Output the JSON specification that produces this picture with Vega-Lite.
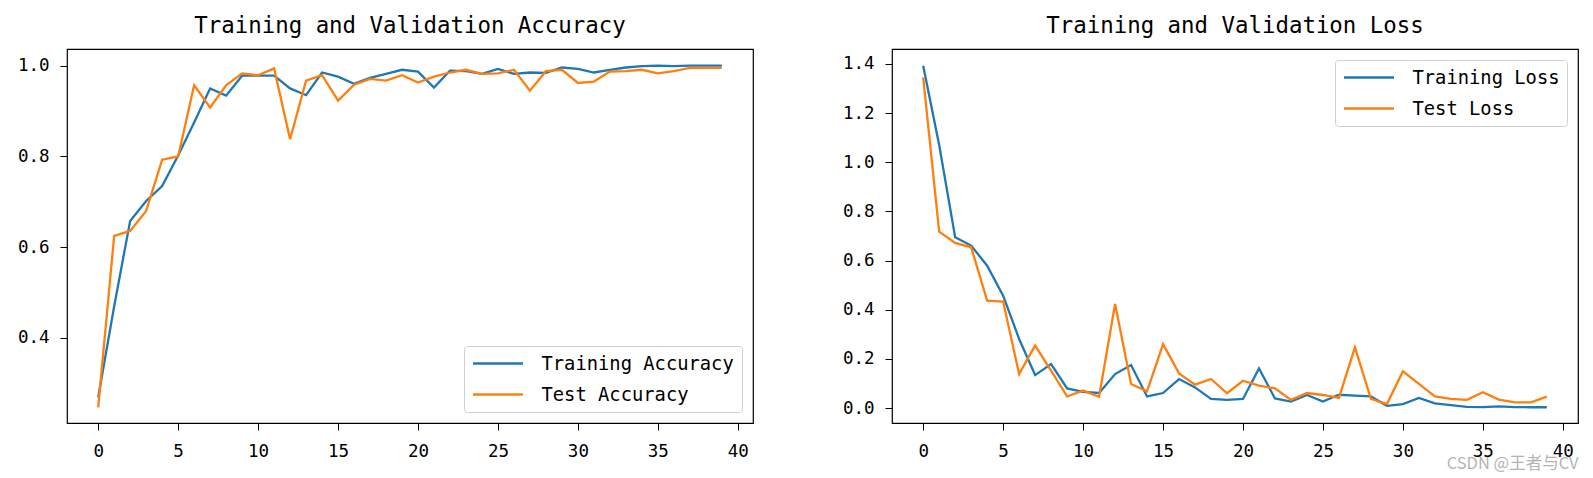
{
  "$schema": "https://vega.github.io/schema/vega-lite/v6.json",
  "padding": {"left": 16, "top": 14, "right": 0, "bottom": 0},
  "background": "white",
  "title": {"text": "CSDN @王者与CV", "orient": "bottom", "anchor": "end", "font": "Noto Sans CJK SC", "fontSize": 16.5, "fontWeight": "normal", "color": "#b4b4b4", "baseline": "top", "offset": -4},
  "datasets": {
    "acc": [
      {"epoch": 0, "Training Accuracy": 0.269, "Test Accuracy": 0.247},
      {"epoch": 1, "Training Accuracy": 0.47, "Test Accuracy": 0.625},
      {"epoch": 2, "Training Accuracy": 0.658, "Test Accuracy": 0.636},
      {"epoch": 3, "Training Accuracy": 0.702, "Test Accuracy": 0.68},
      {"epoch": 4, "Training Accuracy": 0.735, "Test Accuracy": 0.793},
      {"epoch": 5, "Training Accuracy": 0.802, "Test Accuracy": 0.8},
      {"epoch": 6, "Training Accuracy": 0.875, "Test Accuracy": 0.957},
      {"epoch": 7, "Training Accuracy": 0.95, "Test Accuracy": 0.908},
      {"epoch": 8, "Training Accuracy": 0.934, "Test Accuracy": 0.957},
      {"epoch": 9, "Training Accuracy": 0.978, "Test Accuracy": 0.983},
      {"epoch": 10, "Training Accuracy": 0.978, "Test Accuracy": 0.979},
      {"epoch": 11, "Training Accuracy": 0.978, "Test Accuracy": 0.994},
      {"epoch": 12, "Training Accuracy": 0.95, "Test Accuracy": 0.838},
      {"epoch": 13, "Training Accuracy": 0.935, "Test Accuracy": 0.967},
      {"epoch": 14, "Training Accuracy": 0.985, "Test Accuracy": 0.979},
      {"epoch": 15, "Training Accuracy": 0.976, "Test Accuracy": 0.923},
      {"epoch": 16, "Training Accuracy": 0.96, "Test Accuracy": 0.958},
      {"epoch": 17, "Training Accuracy": 0.973, "Test Accuracy": 0.971},
      {"epoch": 18, "Training Accuracy": 0.982, "Test Accuracy": 0.967},
      {"epoch": 19, "Training Accuracy": 0.991, "Test Accuracy": 0.979},
      {"epoch": 20, "Training Accuracy": 0.987, "Test Accuracy": 0.963},
      {"epoch": 21, "Training Accuracy": 0.952, "Test Accuracy": 0.976},
      {"epoch": 22, "Training Accuracy": 0.989, "Test Accuracy": 0.985},
      {"epoch": 23, "Training Accuracy": 0.988, "Test Accuracy": 0.991},
      {"epoch": 24, "Training Accuracy": 0.982, "Test Accuracy": 0.982},
      {"epoch": 25, "Training Accuracy": 0.993, "Test Accuracy": 0.983},
      {"epoch": 26, "Training Accuracy": 0.982, "Test Accuracy": 0.991},
      {"epoch": 27, "Training Accuracy": 0.985, "Test Accuracy": 0.945},
      {"epoch": 28, "Training Accuracy": 0.984, "Test Accuracy": 0.988},
      {"epoch": 29, "Training Accuracy": 0.996, "Test Accuracy": 0.991},
      {"epoch": 30, "Training Accuracy": 0.993, "Test Accuracy": 0.962},
      {"epoch": 31, "Training Accuracy": 0.985, "Test Accuracy": 0.965},
      {"epoch": 32, "Training Accuracy": 0.991, "Test Accuracy": 0.987},
      {"epoch": 33, "Training Accuracy": 0.996, "Test Accuracy": 0.988},
      {"epoch": 34, "Training Accuracy": 0.999, "Test Accuracy": 0.991},
      {"epoch": 35, "Training Accuracy": 1.0, "Test Accuracy": 0.983},
      {"epoch": 36, "Training Accuracy": 0.999, "Test Accuracy": 0.988},
      {"epoch": 37, "Training Accuracy": 1.0, "Test Accuracy": 0.995},
      {"epoch": 38, "Training Accuracy": 1.0, "Test Accuracy": 0.995},
      {"epoch": 39, "Training Accuracy": 1.0, "Test Accuracy": 0.995}
    ],
    "loss": [
      {"epoch": 0, "Training Loss": 1.393, "Test Loss": 1.346},
      {"epoch": 1, "Training Loss": 1.07, "Test Loss": 0.718},
      {"epoch": 2, "Training Loss": 0.695, "Test Loss": 0.672},
      {"epoch": 3, "Training Loss": 0.661, "Test Loss": 0.654},
      {"epoch": 4, "Training Loss": 0.579, "Test Loss": 0.437},
      {"epoch": 5, "Training Loss": 0.457, "Test Loss": 0.433},
      {"epoch": 6, "Training Loss": 0.281, "Test Loss": 0.138},
      {"epoch": 7, "Training Loss": 0.134, "Test Loss": 0.254},
      {"epoch": 8, "Training Loss": 0.179, "Test Loss": 0.152},
      {"epoch": 9, "Training Loss": 0.08, "Test Loss": 0.047},
      {"epoch": 10, "Training Loss": 0.066, "Test Loss": 0.071},
      {"epoch": 11, "Training Loss": 0.061, "Test Loss": 0.046},
      {"epoch": 12, "Training Loss": 0.138, "Test Loss": 0.423},
      {"epoch": 13, "Training Loss": 0.175, "Test Loss": 0.098},
      {"epoch": 14, "Training Loss": 0.047, "Test Loss": 0.068},
      {"epoch": 15, "Training Loss": 0.061, "Test Loss": 0.26},
      {"epoch": 16, "Training Loss": 0.118, "Test Loss": 0.141},
      {"epoch": 17, "Training Loss": 0.084, "Test Loss": 0.095},
      {"epoch": 18, "Training Loss": 0.037, "Test Loss": 0.118},
      {"epoch": 19, "Training Loss": 0.033, "Test Loss": 0.06},
      {"epoch": 20, "Training Loss": 0.037, "Test Loss": 0.111},
      {"epoch": 21, "Training Loss": 0.161, "Test Loss": 0.091},
      {"epoch": 22, "Training Loss": 0.039, "Test Loss": 0.08},
      {"epoch": 23, "Training Loss": 0.026, "Test Loss": 0.033},
      {"epoch": 24, "Training Loss": 0.053, "Test Loss": 0.061},
      {"epoch": 25, "Training Loss": 0.026, "Test Loss": 0.053},
      {"epoch": 26, "Training Loss": 0.054, "Test Loss": 0.041},
      {"epoch": 27, "Training Loss": 0.05, "Test Loss": 0.247},
      {"epoch": 28, "Training Loss": 0.047, "Test Loss": 0.037},
      {"epoch": 29, "Training Loss": 0.009, "Test Loss": 0.016},
      {"epoch": 30, "Training Loss": 0.016, "Test Loss": 0.149},
      {"epoch": 31, "Training Loss": 0.041, "Test Loss": 0.098},
      {"epoch": 32, "Training Loss": 0.019, "Test Loss": 0.047},
      {"epoch": 33, "Training Loss": 0.012, "Test Loss": 0.037},
      {"epoch": 34, "Training Loss": 0.005, "Test Loss": 0.033},
      {"epoch": 35, "Training Loss": 0.004, "Test Loss": 0.064},
      {"epoch": 36, "Training Loss": 0.007, "Test Loss": 0.034},
      {"epoch": 37, "Training Loss": 0.004, "Test Loss": 0.023},
      {"epoch": 38, "Training Loss": 0.003, "Test Loss": 0.023},
      {"epoch": 39, "Training Loss": 0.003, "Test Loss": 0.046}
    ]
  },
  "spacing": 139,
  "bounds": "flush",
  "hconcat": [
    {
      "width": 686,
      "height": 374,
      "title": {"text": "Training and Validation Accuracy"},
      "data": {"name": "acc"},
      "transform": [{"fold": ["Training Accuracy", "Test Accuracy"], "as": ["series", "value"]}],
      "mark": {"type": "line", "strokeWidth": 2.3},
      "encoding": {
        "x": {"field": "epoch", "type": "quantitative", "scale": {"domain": [-1.95, 40.95], "nice": false, "zero": false}, "axis": {"values": [0, 5, 10, 15, 20, 25, 30, 35, 40], "format": "d", "title": null}},
        "y": {"field": "value", "type": "quantitative", "scale": {"domain": [0.2127, 1.0368], "nice": false, "zero": false}, "axis": {"values": [0.4, 0.6, 0.8, 1.0], "format": ".1f", "title": null}},
        "color": {"field": "series", "type": "nominal", "scale": {"domain": ["Training Accuracy", "Test Accuracy"], "range": ["#1f77b4", "#ff7f0e"]}, "legend": {"title": null, "orient": "bottom-right", "offset": 11}}
      }
    },
    {
      "width": 686,
      "height": 374,
      "title": {"text": "Training and Validation Loss"},
      "data": {"name": "loss"},
      "transform": [{"fold": ["Training Loss", "Test Loss"], "as": ["series", "value"]}],
      "mark": {"type": "line", "strokeWidth": 2.3},
      "encoding": {
        "x": {"field": "epoch", "type": "quantitative", "scale": {"domain": [-1.95, 40.95], "nice": false, "zero": false}, "axis": {"values": [0, 5, 10, 15, 20, 25, 30, 35, 40], "format": "d", "title": null}},
        "y": {"field": "value", "type": "quantitative", "scale": {"domain": [-0.061, 1.461], "nice": false, "zero": false}, "axis": {"values": [0, 0.2, 0.4, 0.6, 0.8, 1.0, 1.2, 1.4], "format": ".1f", "title": null}},
        "color": {"field": "series", "type": "nominal", "scale": {"domain": ["Training Loss", "Test Loss"], "range": ["#1f77b4", "#ff7f0e"]}, "legend": {"title": null, "orient": "top-right", "offset": 11}}
      }
    }
  ],
  "resolve": {"scale": {"color": "independent"}, "legend": {"color": "independent"}},
  "config": {
    "font": "DejaVu Sans Mono",
    "view": {"stroke": "#000000", "strokeWidth": 1.2},
    "title": {"font": "DejaVu Sans Mono", "fontSize": 22.4, "fontWeight": "normal", "color": "#000000", "offset": 12, "baseline": "alphabetic"},
    "axis": {"grid": false, "domain": false, "tickColor": "#000000", "tickSize": 7, "tickWidth": 1, "labelFont": "DejaVu Sans Mono", "labelFontSize": 17.5, "labelColor": "#000000", "labelPadding": 11},
    "axisX": {"labelPadding": 12},
    "legend": {"labelFont": "DejaVu Sans Mono", "labelFontSize": 18.8, "labelColor": "#000000", "labelLimit": 500, "symbolType": "stroke", "symbolSize": 2500, "symbolStrokeWidth": 2.3, "clipHeight": 20, "rowPadding": 11, "padding": 7.5, "labelOffset": 17, "strokeColor": "#d0d0d0", "fillColor": "white", "cornerRadius": 3}
  }
}
